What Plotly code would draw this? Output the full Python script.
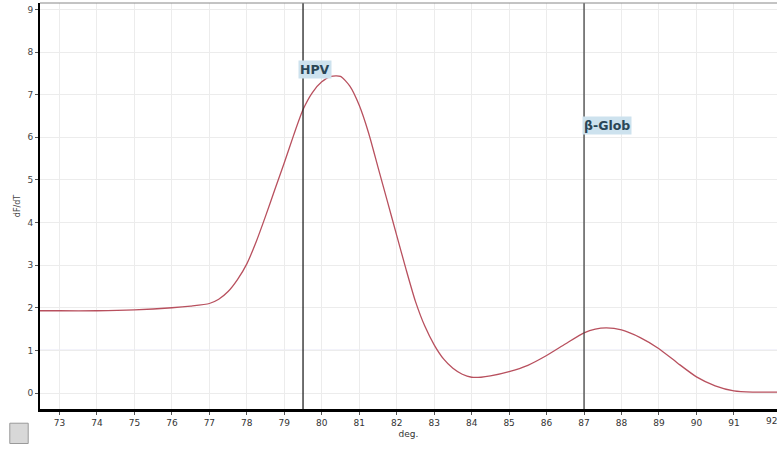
import plotly.graph_objects as go

# Melt curve data (deg., dF/dT)
temps = [72.48, 73.0, 74.0, 75.0, 76.0, 76.5, 77.0, 77.25, 77.5, 77.75, 78.0, 78.25, 78.5, 78.75,
         79.0, 79.25, 79.5, 79.75, 80.0, 80.25, 80.5, 80.75, 81.0, 81.25, 81.5, 81.75,
         82.0, 82.25, 82.5, 82.75, 83.0, 83.25, 83.5, 83.75, 84.0, 84.25, 84.5, 85.0,
         85.5, 86.0, 86.5, 87.0, 87.3, 87.6, 88.0, 88.5, 89.0, 89.5, 90.0, 90.5,
         91.0, 91.5, 92.0, 92.15]
dfdt = [1.93, 1.93, 1.93, 1.95, 2.0, 2.04, 2.1, 2.2, 2.38, 2.66, 3.03, 3.55, 4.15, 4.78,
        5.4, 6.05, 6.65, 7.05, 7.3, 7.43, 7.43, 7.2, 6.75, 6.1, 5.3, 4.5,
        3.7, 2.9, 2.15, 1.57, 1.13, 0.8, 0.58, 0.44, 0.37, 0.37, 0.4, 0.5,
        0.65, 0.88, 1.15, 1.41, 1.5, 1.53, 1.48, 1.3, 1.04, 0.7, 0.38, 0.17,
        0.05, 0.02, 0.02, 0.02]

# Peak markers
marker_names = ["HPV", "β-Glob"]
marker_x = [79.5, 87.0]
marker_label_y = [7.58, 6.27]

threshold = 1.0
x_ticks = list(range(73, 93))
y_ticks = list(range(0, 10))

fig = go.Figure()
fig.add_trace(go.Scatter(x=temps, y=dfdt, mode="lines",
                         line=dict(color="#b8505e", width=1.3, shape="spline", smoothing=0.6),
                         hoverinfo="skip", showlegend=False))

# threshold line
fig.add_shape(type="line", xref="paper", x0=0, x1=1, yref="y", y0=threshold, y1=threshold,
              line=dict(color="#9a9ad8", width=1), layer="below")

# marker vertical lines and labels
line_colors = ["#222222", "#444444"]
for name, mx, ly, lc in zip(marker_names, marker_x, marker_label_y, line_colors):
    fig.add_shape(type="line", xref="x", x0=mx, x1=mx, yref="paper", y0=0, y1=1,
                  line=dict(color=lc, width=1.3))
    fig.add_annotation(x=mx, y=ly, xref="x", yref="y", text="<b>" + name + "</b>", showarrow=False,
                       xanchor="left", xshift=-5 if name == "HPV" else -2, yanchor="middle",
                       font=dict(family="DejaVu Sans", size=12.5, color="#2a4656"),
                       bgcolor="#cde2ee", borderpad=1)

# last tick label, cut by the window edge as in the reference
fig.add_annotation(x=x_ticks[-1], y=0, xref="x", yref="paper", text=str(x_ticks[-1]), showarrow=False,
                   xanchor="center", yanchor="top", yshift=-5,
                   font=dict(family="DejaVu Sans", size=9, color="#333333"))

# top border
fig.add_shape(type="line", xref="paper", x0=0, x1=1, yref="paper", y0=1, y1=1,
              line=dict(color="#888888", width=1))

# small tool icon bottom-left
fig.add_shape(type="rect", xref="paper", yref="paper", x0=-0.041, x1=-0.016, y0=-0.085, y1=-0.035,
              line=dict(color="#9a9a9a", width=1), fillcolor="#d8d8d8")

fig.update_layout(
    width=777, height=453,
    margin=dict(l=40, r=0, t=3, b=44),
    paper_bgcolor="white", plot_bgcolor="white",
    font=dict(family="DejaVu Sans", size=9, color="#333333"),
    xaxis=dict(range=[72.48, 92.15], tickvals=x_ticks[:-1], ticktext=[str(v) for v in x_ticks[:-1]],
               showgrid=True, gridcolor="#ececec", gridwidth=1, zeroline=False,
               showline=True, linecolor="#000000", linewidth=3, ticks="outside", ticklen=3,
               tickcolor="#555555", tickfont=dict(size=9, color="#333333"),
               title=dict(text="deg.", font=dict(size=9, color="#333333"), standoff=4)),
    yaxis=dict(range=[-0.375, 9.15], tickvals=y_ticks, ticktext=[str(v) for v in y_ticks],
               showgrid=True, gridcolor="#ececec", gridwidth=1, zeroline=False,
               showline=True, linecolor="#000000", linewidth=2, ticks="outside", ticklen=3,
               tickcolor="#555555", tickfont=dict(size=9, color="#444444"),
               title=dict(text="dF/dT", font=dict(size=8, color="#444444"), standoff=6)),
)

fig.write_html("out.html")
